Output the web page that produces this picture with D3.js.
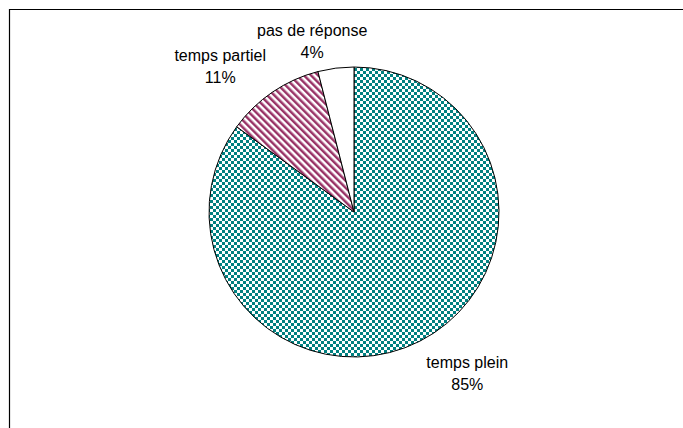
<!DOCTYPE html>
<html>
<head>
<meta charset="utf-8">
<script src="https://cdn.jsdelivr.net/npm/d3@7"></script>
<style>
  body { margin: 0; background: #fff; }
  text { font-family: "Liberation Sans", Arial, sans-serif; font-size: 16px; fill: #000; }
</style>
</head>
<body>
<div id="chart"></div>
<script>
// data
var categories = ["temps plein", "temps partiel", "pas de réponse"];
var values = [85, 11, 4];
var pctLabels = ["85%", "11%", "4%"];

var width = 683, height = 428;
var cx = 354, cy = 212, radius = 145;

var svg = d3.select("#chart")
  .append("svg")
  .attr("width", width)
  .attr("height", height);

// patterns
var defs = svg.append("defs");

var checker = defs.append("pattern")
  .attr("id", "checker")
  .attr("patternUnits", "userSpaceOnUse")
  .attr("width", 6).attr("height", 6);
checker.append("rect").attr("width", 6).attr("height", 6).attr("fill", "#fff");
checker.append("rect").attr("x", 0).attr("y", 0).attr("width", 3).attr("height", 3).attr("fill", "#008080");
checker.append("rect").attr("x", 3).attr("y", 3).attr("width", 3).attr("height", 3).attr("fill", "#008080");

var stripes = defs.append("pattern")
  .attr("id", "stripes")
  .attr("patternUnits", "userSpaceOnUse")
  .attr("width", 5).attr("height", 5)
  .attr("patternTransform", "rotate(-45)");
stripes.append("rect").attr("width", 5).attr("height", 5).attr("fill", "#fff");
stripes.append("rect").attr("width", 2.5).attr("height", 5).attr("fill", "#993366");

var fills = {"temps plein": "url(#checker)", "temps partiel": "url(#stripes)", "pas de réponse": "#fff"};

// frame (cut by the window on right and bottom)
svg.append("path")
  .attr("d", "M9.5," + height + "V9.5H" + width)
  .attr("fill", "none")
  .attr("stroke", "#000")
  .attr("stroke-width", 1.2);

var pie = d3.pie().sort(null).value(function(d){ return d; });
var arcs = pie(values);
var arc = d3.arc().innerRadius(0).outerRadius(radius);
var labelArc = d3.arc().innerRadius(190).outerRadius(190);

var g = svg.append("g").attr("transform", "translate(" + cx + "," + cy + ")");

g.selectAll("path.slice")
  .data(arcs)
  .enter()
  .append("path")
    .attr("class", "slice")
    .attr("d", arc)
    .attr("fill", function(d, i){ return fills[categories[i]]; })
    .attr("stroke", "#000")
    .attr("stroke-width", 1);

// labels, nudged the way the original places them
var nudge = {"temps plein": [27, -9], "temps partiel": [-27, 10], "pas de réponse": [-18, 17]};

var labels = g.selectAll("g.label")
  .data(arcs)
  .enter()
  .append("g")
    .attr("class", "label")
    .attr("transform", function(d, i){
      var c = labelArc.centroid(d), n = nudge[categories[i]];
      return "translate(" + (c[0] + n[0]) + "," + (c[1] + n[1]) + ")";
    });

labels.append("text")
  .attr("text-anchor", "middle")
  .attr("y", -4)
  .text(function(d, i){ return categories[i]; });

labels.append("text")
  .attr("text-anchor", "middle")
  .attr("y", 18)
  .text(function(d, i){ return pctLabels[i]; });
</script>
</body>
</html>
